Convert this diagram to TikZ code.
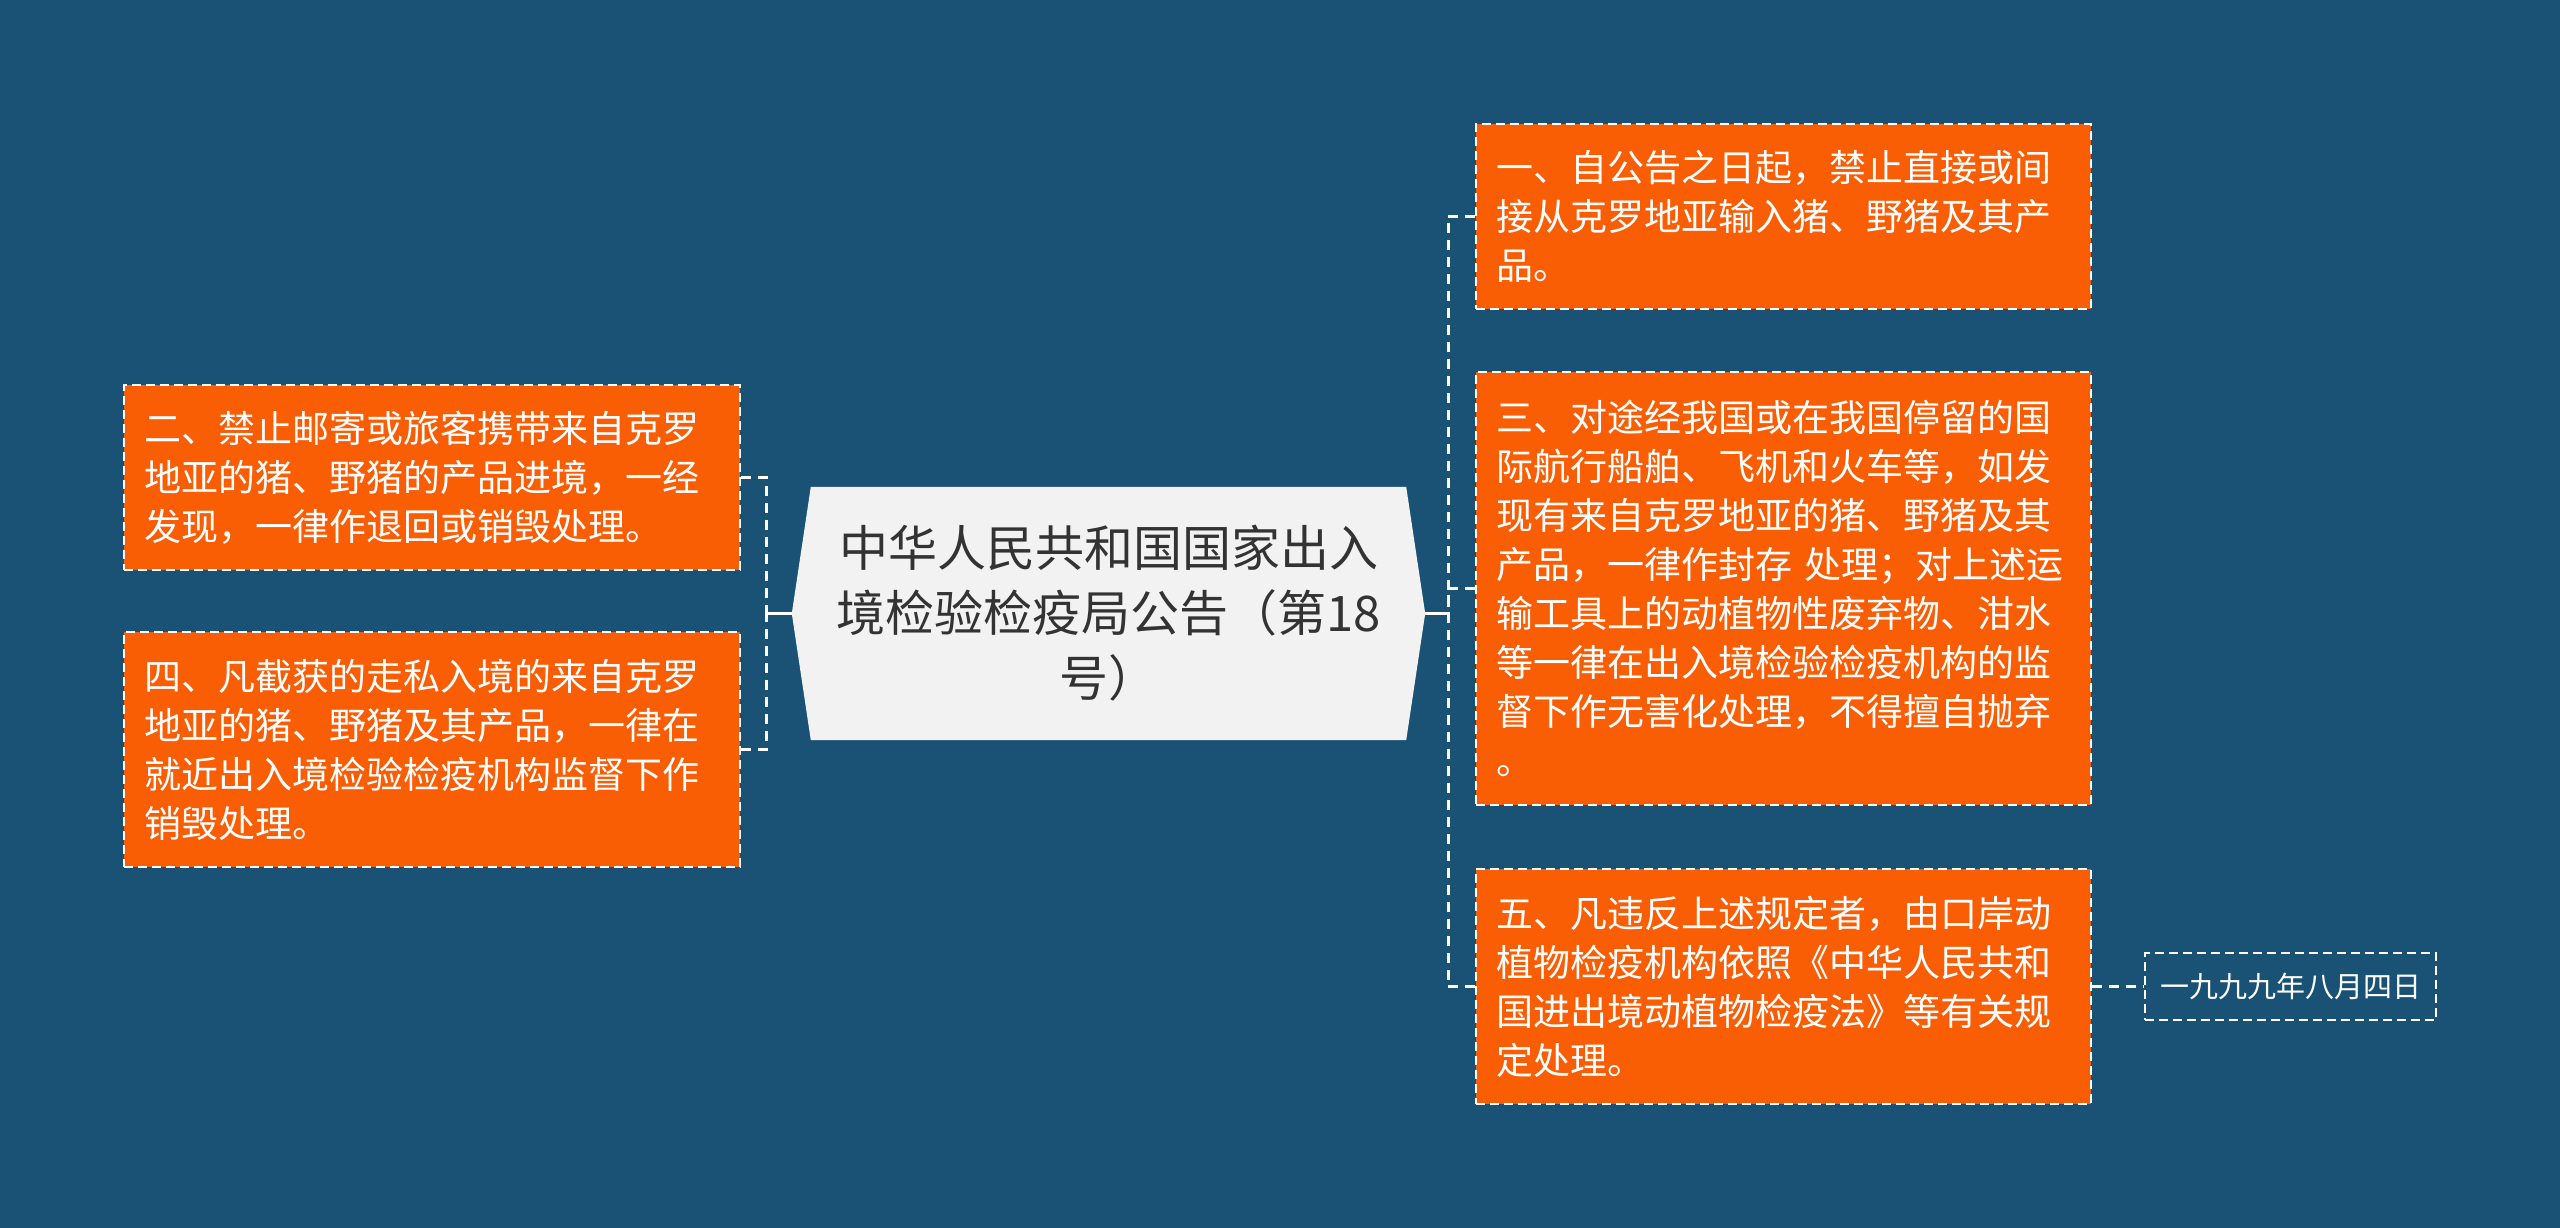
\documentclass[tikz,border=0pt]{standalone}
\usepackage{fontspec}
\newfontfamily\cjk{Noto Sans CJK SC}
\usetikzlibrary{backgrounds}
\definecolor{bgcol}{RGB}{26,82,118}
\definecolor{orangecol}{RGB}{250,94,5}
\definecolor{centerfill}{RGB}{242,242,242}
\definecolor{centertext}{RGB}{51,51,51}
\tikzset{
  obox/.style={fill=orangecol, draw=white, line width=1.8pt, dash pattern=on 9pt off 5pt,
    inner xsep=20pt, inner ysep=0pt, align=left, text=white,
    font=\cjk\fontsize{37}{49}\selectfont},
  datebox/.style={draw=white, line width=1.8pt, dash pattern=on 9pt off 5pt,
    inner sep=0pt, align=center, text=white, minimum width=291pt, minimum height=67pt,
    font=\cjk\fontsize{29}{35}\selectfont},
  conn/.style={draw=white, line width=3pt, dash pattern=on 10pt off 7pt},
  trunk/.style={draw=white, line width=3pt},
}
\begin{document}
\begin{tikzpicture}[x=1pt,y=-1pt]
\begin{pgfonlayer}{background}
\fill[bgcol] (0,0) rectangle (2560,1228);
\end{pgfonlayer}
\useasboundingbox (0,0) rectangle (2560,1228);

% central node
\node[inner sep=0pt, minimum width=633pt, minimum height=253pt, align=center,
  text=centertext, font=\cjk\fontsize{49}{65}\selectfont] (root) at (1108.5,613.5)
  {中华人民共和国国家出入\\境检验检疫局公告（第18\\号）};
\begin{pgfonlayer}{background}
\fill[centerfill] ([xshift=19pt]root.north west) -- (root.west) -- ([xshift=19pt]root.south west)
  -- ([xshift=-19pt]root.south east) -- (root.east) -- ([xshift=-19pt]root.north east) -- cycle;
\end{pgfonlayer}

% left boxes
\node[obox, minimum width=616pt, minimum height=185pt, text width=576pt] (b2) at (432,477.5)
  {二、禁止邮寄或旅客携带来自克罗\\地亚的猪、野猪的产品进境，一经\\发现，一律作退回或销毁处理。};
\node[obox, minimum width=616pt, minimum height=235pt, text width=576pt] (b4) at (432,749.5)
  {四、凡截获的走私入境的来自克罗\\地亚的猪、野猪及其产品，一律在\\就近出入境检验检疫机构监督下作\\销毁处理。};

% right boxes
\node[obox, minimum width=615pt, minimum height=185pt, text width=575pt] (b1) at (1783.5,216.5)
  {一、自公告之日起，禁止直接或间\\接从克罗地亚输入猪、野猪及其产\\品。};
\node[obox, minimum width=615pt, minimum height=433pt, text width=575pt] (b3) at (1783.5,588.5)
  {三、对途经我国或在我国停留的国\\际航行船舶、飞机和火车等，如发\\现有来自克罗地亚的猪、野猪及其\\产品，一律作封存 处理；对上述运\\输工具上的动植物性废弃物、泔水\\等一律在出入境检验检疫机构的监\\督下作无害化处理，不得擅自抛弃\\。};
\node[obox, minimum width=615pt, minimum height=235pt, text width=575pt] (b5) at (1783.5,986.5)
  {五、凡违反上述规定者，由口岸动\\植物检疫机构依照《中华人民共和\\国进出境动植物检疫法》等有关规\\定处理。};

\node[datebox] (date) at (2290.5,986.5) {一九九九年八月四日};

% junctions
\coordinate (lj) at (766,613.5);
\coordinate (rj) at (1448,613.5);

\draw[trunk] (root.west) -- (lj);
\draw[trunk] (root.east) -- (rj);
\draw[conn] (b2.east) -| (lj);
\draw[conn] (b4.east) -| (lj);
\draw[conn] (b1.west) -| (rj);
\draw[conn] (b3.west) -| (rj);
\draw[conn] (b5.west) -| (rj);
\draw[conn] (b5.east) -- (date.west);
\end{tikzpicture}
\end{document}
